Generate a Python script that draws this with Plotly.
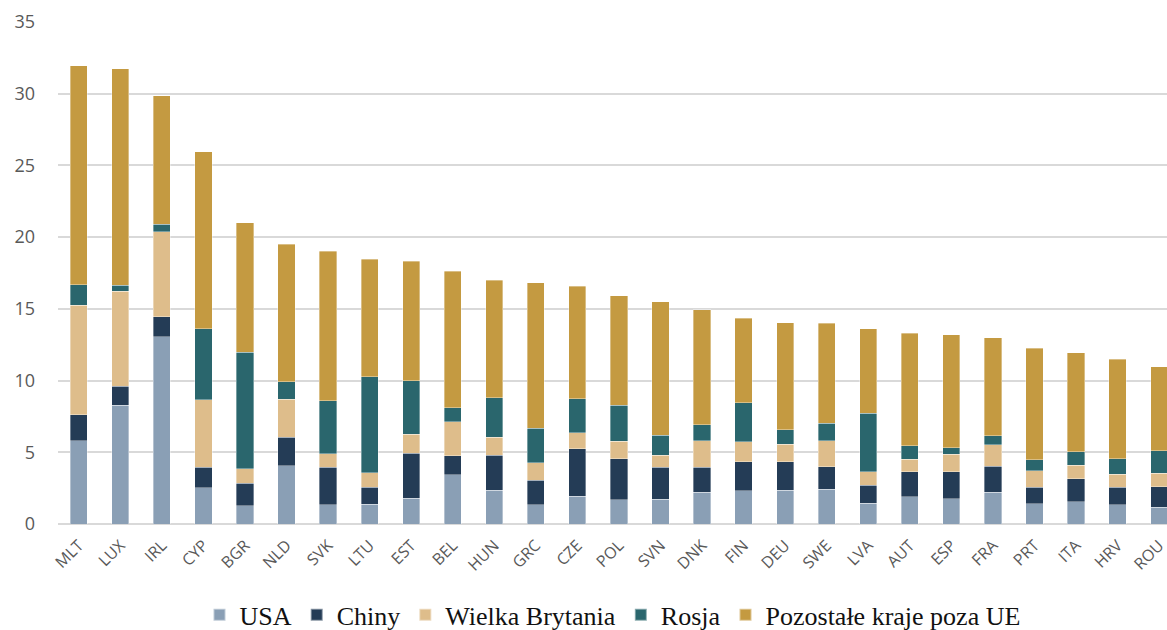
import plotly.graph_objects as go

countries = ["MLT", "LUX", "IRL", "CYP", "BGR", "NLD", "SVK", "LTU", "EST", "BEL",
             "HUN", "GRC", "CZE", "POL", "SVN", "DNK", "FIN", "DEU", "SWE", "LVA",
             "AUT", "ESP", "FRA", "PRT", "ITA", "HRV", "ROU"]

usa = [5.80, 8.27, 13.07, 2.54, 1.27, 4.05, 1.34, 1.39, 1.78, 3.45,
       2.34, 1.34, 1.93, 1.69, 1.74, 2.20, 2.31, 2.36, 2.41, 1.44,
       1.91, 1.77, 2.23, 1.40, 1.56, 1.33, 1.16]
chiny = [1.82, 1.34, 1.39, 1.42, 1.56, 2.00, 2.60, 1.18, 3.15, 1.32,
         2.47, 1.72, 3.32, 2.87, 2.20, 1.74, 2.04, 1.97, 1.59, 1.26,
         1.72, 1.88, 1.79, 1.18, 1.60, 1.23, 1.44]
wielka_brytania = [7.63, 6.62, 5.92, 4.72, 1.01, 2.66, 0.97, 1.02, 1.32, 2.36,
                   1.25, 1.22, 1.10, 1.20, 0.87, 1.85, 1.37, 1.23, 1.79, 0.93,
                   0.88, 1.21, 1.49, 1.14, 0.93, 0.91, 0.93]
rosja = [1.44, 0.43, 0.53, 4.94, 8.12, 1.22, 3.70, 6.69, 3.73, 0.97,
         2.74, 2.41, 2.38, 2.53, 1.37, 1.13, 2.73, 1.01, 1.22, 4.09,
         0.93, 0.47, 0.65, 0.75, 0.96, 1.09, 1.56]
pozostale = [15.27, 15.08, 8.94, 12.32, 9.04, 9.57, 10.42, 8.19, 8.35, 9.52,
             8.19, 10.14, 7.83, 7.64, 9.33, 8.03, 5.90, 7.46, 6.97, 5.91,
             7.86, 7.86, 6.82, 7.79, 6.88, 6.91, 5.89]

series_names = ["USA", "Chiny", "Wielka Brytania", "Rosja", "Pozostałe kraje poza UE"]
series_values = [usa, chiny, wielka_brytania, rosja, pozostale]
series_colors = ["#8A9FB5", "#243C56", "#DEBD8B", "#2A666D", "#C49A41"]

y_ticks = [0, 5, 10, 15, 20, 25, 30, 35]

fig = go.Figure()
for name, vals, col in zip(series_names, series_values, series_colors):
    fig.add_trace(go.Bar(
        x=countries, y=vals, name=name,
        marker=dict(color=col, line=dict(color="rgba(255,255,255,0.45)", width=0.8)),
    ))

fig.update_layout(
    width=1167, height=630,
    barmode="stack",
    bargap=0.586,
    plot_bgcolor="white",
    paper_bgcolor="white",
    margin=dict(l=58, r=0, t=22, b=106, autoexpand=False),
    showlegend=True,
    legend=dict(
        orientation="h",
        x=0.5, xanchor="center",
        y=-0.181, yanchor="middle",
        traceorder="normal",
        font=dict(family="Liberation Serif", size=26, color="#111111"),
        itemsizing="constant",
    ),
    xaxis=dict(
        type="category",
        range=[-0.5, 26.19],
        tickangle=-45,
        tickfont=dict(family="Open Sans", size=16, color="#595959"),
        showgrid=False,
        showline=False,
        ticks="",
        ticklabelstandoff=8,
        zeroline=False,
        automargin=False,
    ),
    yaxis=dict(
        range=[0, 35],
        tickvals=y_ticks,
        tickfont=dict(family="Open Sans", size=18, color="#595959"),
        showgrid=True,
        gridcolor="#D9D9D9",
        gridwidth=1.5,
        zeroline=True,
        zerolinecolor="#D9D9D9",
        zerolinewidth=1.5,
        showline=False,
        ticks="",
        ticklabelstandoff=22,
        automargin=False,
    ),
)

fig.write_html(
    "out.html",
    config={"displayModeBar": False},
    post_script="document.body.style.margin='0';document.body.style.overflow='hidden';",
)
